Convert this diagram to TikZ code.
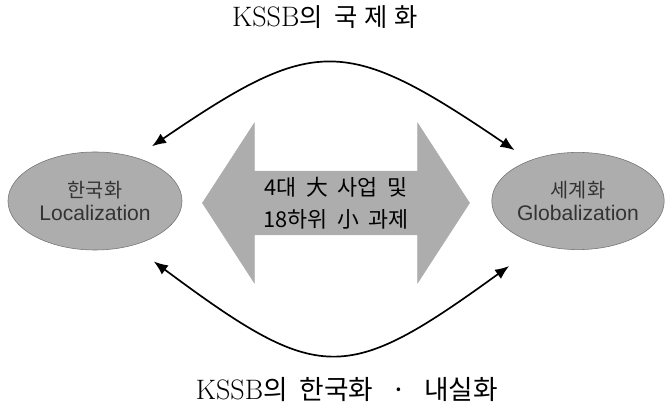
\documentclass[tikz,border=0pt]{standalone}
\usepackage{fontspec}
\usepackage{tikz}
\usetikzlibrary{shapes.geometric,shapes.arrows,arrows.meta}
\newfontfamily\kr{Noto Sans CJK KR}
\newfontfamily\arial{Liberation Sans}

\begin{document}
\begin{tikzpicture}[x=0.025cm,y=-0.025cm,
  blob/.style={ellipse,draw=black!55,fill=black!32,inner sep=0pt,align=center,
    text=black!80,font=\arial\fontsize{15}{17}\selectfont},
  core/.style={double arrow,double arrow tip angle=114,double arrow head extend=1cm,
    minimum height=6.675cm,minimum width=4cm,inner sep=0pt,fill=black!32,draw=black!32,
    align=center,font=\kr\fontsize{15.5}{23}\selectfont},
  link/.style={line width=1.2pt,{Latex[length=10pt,width=8pt]}-{Latex[length=10pt,width=8pt]}},
  title/.style={font=\fontsize{20}{22}\selectfont}]
\useasboundingbox (0,0) rectangle (667,405);

% titles
\node[title] (intl) at (325,17) {KSSB{\kr\fontsize{18}{22}\selectfont 의 \ 국\;제\;화}};
\node[title] (dom) at (347,390) {KSSB{\kr\fontsize{19}{22}\selectfont 의 \ 한국화 \ \ · \ \ 내실화}};

% the two ellipses
\node[blob,minimum width=4.35cm,minimum height=2.45cm] (loc) at (95,201)
  {{\kr\fontsize{14}{17}\selectfont 한국화}\\Localization};
\node[blob,minimum width=3.9cm,minimum height=2.43cm] (glob) at (578,201)
  {{\kr\fontsize{14}{17}\selectfont 세계화}\\Globalization};

% big arrow in the middle
\node[core] (core) at (336,203) {4대 \ 大 \ 사업 \ 및\\18하위 \ 小 \ 과제};

% curved links
\draw[link,shorten <=14pt,shorten >=13pt] (loc.47) .. controls (315,35) and (345,35) .. (glob.140);
\draw[link,shorten <=19pt,shorten >=26pt] (loc.-50) .. controls (320,385) and (345,385) .. (glob.-132);
\end{tikzpicture}
\end{document}
